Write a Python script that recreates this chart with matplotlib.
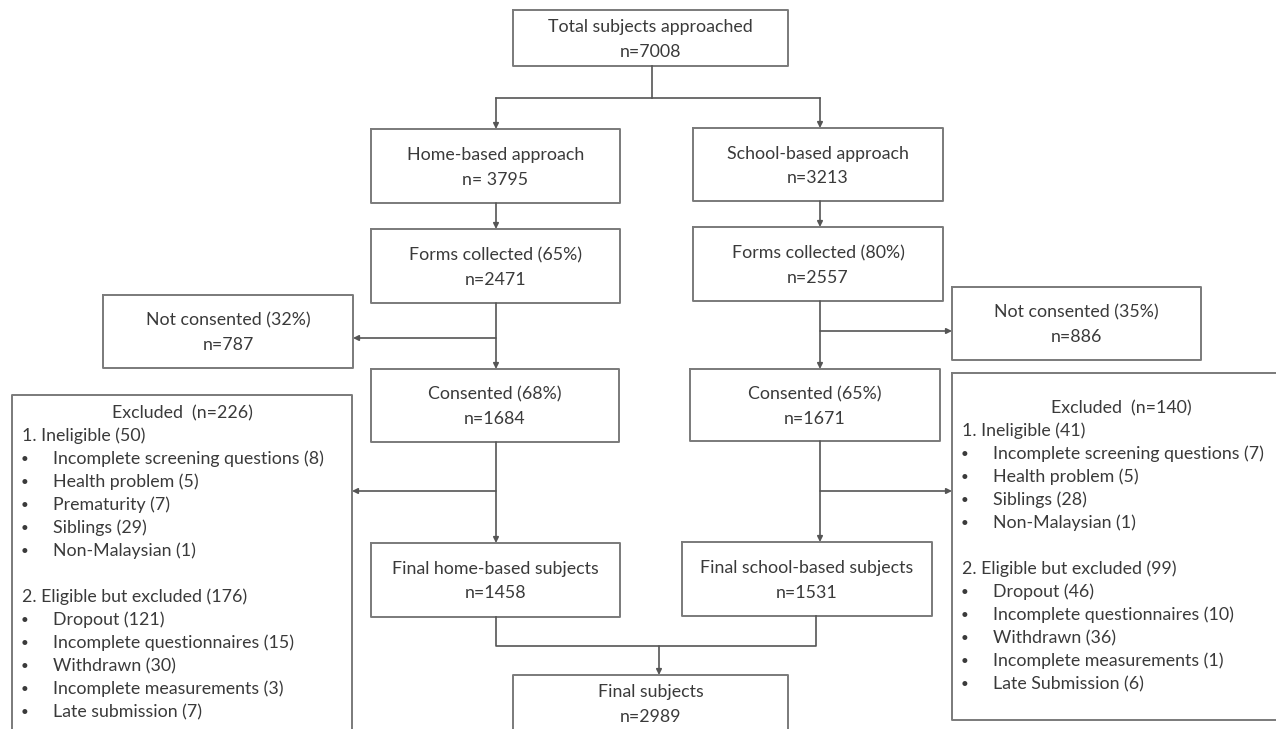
import matplotlib.pyplot as plt

plt.rcParams['font.family'] = ['Lato', 'DejaVu Sans']

# ------- flow counts ----------------------------
total_n = 7008
home_n = [3795, 2471, 1684, 1458]
school_n = [3213, 2557, 1671, 1531]
home_forms_pct, school_forms_pct = 65, 80
home_consent_pct, school_consent_pct = 68, 65
not_consent_pct = [32, 35]
not_consent_n = [787, 886]
final_n = 2989

excl_n = [226, 140]
home_inelig = 50
home_inelig_items = ['Incomplete screening questions (8)', 'Health problem (5)',
                     'Prematurity (7)', 'Siblings (29)', 'Non-Malaysian (1)']
home_elig = 176
home_elig_items = ['Dropout (121)', 'Incomplete questionnaires (15)', 'Withdrawn (30)',
                   'Incomplete measurements (3)', 'Late submission (7)']
school_inelig = 41
school_inelig_items = ['Incomplete screening questions (7)', 'Health problem (5)',
                       'Siblings (28)', 'Non-Malaysian (1)']
school_elig = 99
school_elig_items = ['Dropout (46)', 'Incomplete questionnaires (10)', 'Withdrawn (36)',
                     'Incomplete measurements (1)', 'Late Submission (6)']

fig = plt.figure(figsize=(12.76, 7.29), dpi=100)
ax = fig.add_axes([0, 0, 1, 1])
ax.set_xlim(0, 1276)
ax.set_ylim(729, 0)
ax.axis('off')

EDGE = '#7a7a7a'
LINE = '#555555'
TXT = '#3a3a3a'
FS = 12.8


def box(x0, y0, x1, y1, lines=None, open_bottom=False):
    if open_bottom:
        ax.plot([x0, x0, x1, x1], [y1, y0, y0, y1], color=EDGE, lw=1.4)
    else:
        ax.plot([x0, x1, x1, x0, x0], [y0, y0, y1, y1, y0], color=EDGE, lw=1.4)
    if lines:
        cx = (x0 + x1) / 2
        ty = y0 + 17 if open_bottom else (y0 + y1) / 2 - 11
        for i, s in enumerate(lines):
            ax.text(cx, ty + 24.5 * i, s, ha='center', va='center', fontsize=FS, color=TXT)


def seg(xs, ys):
    ax.plot(xs, ys, color=LINE, lw=1.2)


def arrow(x0, y0, x1, y1):
    ax.annotate('', xy=(x1, y1), xytext=(x0, y0),
                arrowprops=dict(arrowstyle='-|>', color=LINE, lw=1.2,
                                mutation_scale=8, shrinkA=0, shrinkB=0))


# top
box(513, 10, 788, 66, ['Total subjects approached', f'n={total_n}'])
seg([652, 652], [66, 98])
seg([496, 820], [98, 98])
arrow(496, 98, 496, 129)
arrow(820, 98, 820, 128)

# home branch
hx = 496
box(371, 129, 620, 203, ['Home-based approach', f'n= {home_n[0]}'])
arrow(hx, 203, hx, 229)
box(371, 229, 620, 303, [f'Forms collected ({home_forms_pct}%)', f'n={home_n[1]}'])
arrow(hx, 303, hx, 369)
arrow(hx, 338, 353, 338)
box(103, 295, 353, 368, [f'Not consented ({not_consent_pct[0]}%)', f'n={not_consent_n[0]}'])
box(371, 369, 619, 442, [f'Consented ({home_consent_pct}%)', f'n={home_n[2]}'])
arrow(hx, 442, hx, 543)
arrow(hx, 491, 352, 491)
box(371, 543, 620, 617, ['Final home-based subjects', f'n={home_n[3]}'])

# school branch
sx = 820
box(693, 128, 943, 201, ['School-based approach', f'n={school_n[0]}'])
arrow(sx, 201, sx, 227)
box(693, 227, 943, 301, [f'Forms collected ({school_forms_pct}%)', f'n={school_n[1]}'])
arrow(sx, 301, sx, 369)
arrow(sx, 331, 952, 331)
box(952, 287, 1201, 360, [f'Not consented ({not_consent_pct[1]}%)', f'n={not_consent_n[1]}'])
box(690, 369, 940, 441, [f'Consented ({school_consent_pct}%)', f'n={school_n[2]}'])
arrow(sx, 441, sx, 542)
arrow(sx, 491, 952, 491)
box(682, 542, 932, 616, ['Final school-based subjects', f'n={school_n[3]}'])

# merge
seg([hx, hx, 816, 816], [617, 646, 646, 616])
arrow(659, 646, 659, 675)
box(513, 675, 788, 740, ['Final subjects', f'n={final_n}'], open_bottom=True)


def excluded(x0, y0, x1, y1, n, inelig, inelig_items, elig, elig_items, head_y, open_bottom):
    box(x0, y0, x1, y1, open_bottom=open_bottom)
    ax.text((x0 + x1) / 2, head_y, f'Excluded  (n={n})', ha='center', va='center',
            fontsize=FS, color=TXT)
    y = head_y + 23
    rows = [(f'1. Ineligible ({inelig})', False)] + [(s, True) for s in inelig_items] + \
           [('', False), (f'2. Eligible but excluded ({elig})', False)] + [(s, True) for s in elig_items]
    for s, bullet in rows:
        if bullet:
            ax.text(x0 + 12, y, '\u2022', ha='center', va='center', fontsize=FS - 3, color=TXT)
            ax.text(x0 + 41, y, s, ha='left', va='center', fontsize=FS, color=TXT)
        elif s:
            ax.text(x0 + 10, y, s, ha='left', va='center', fontsize=FS, color=TXT)
        y += 23


excluded(12, 395, 352, 740, excl_n[0], home_inelig, home_inelig_items,
         home_elig, home_elig_items, 413, True)
excluded(952, 373, 1290, 720, excl_n[1], school_inelig, school_inelig_items,
         school_elig, school_elig_items, 408, False)

fig.savefig('out.png', dpi=100)
